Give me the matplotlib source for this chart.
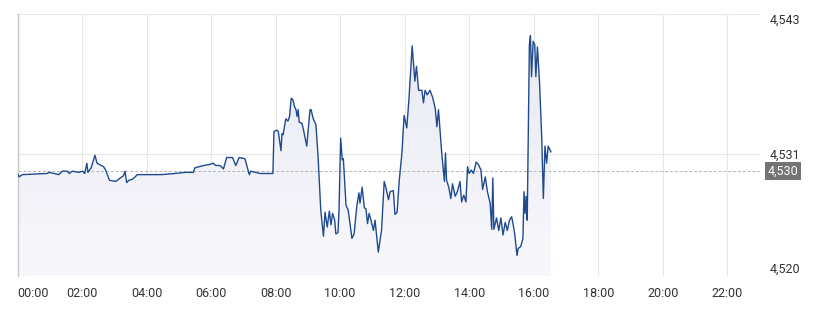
"""
Intraday price chart with previous-close reference line.

Output: out.png
"""

import matplotlib.pyplot as plt
import numpy as np
from matplotlib.ticker import FixedLocator

plt.rcParams["font.family"] = ["Roboto", "DejaVu Sans"]

# minutes since midnight, price
minutes = [
    0, 3, 9, 55, 59, 77, 83, 93, 96, 102, 114, 121, 125, 129, 131, 137, 144, 148,
    152, 156, 160, 164, 171, 183, 191, 197, 200, 203, 207, 214, 223, 245,
    268, 293, 312, 327, 330, 346, 358, 364, 369, 377, 383, 389, 400, 406, 412,
    423, 431, 434, 451, 473, 475,
    477, 482, 485, 490, 492, 494, 499, 503, 506, 509, 512, 515, 518, 520, 522,
    524, 529, 532, 538, 544, 546, 550, 555, 559, 564, 569, 572, 576, 580, 583,
    586, 590, 592, 596, 598, 601, 604, 606, 611, 615, 622, 626, 631, 635, 637,
    641, 645, 648, 651, 654, 658, 662, 665, 671, 677, 682, 685, 690, 693, 699,
    702, 706, 710, 715, 719, 724, 728, 734, 739, 742, 746, 752, 755, 758, 762,
    767, 772, 777, 780, 783, 789, 794, 796, 798, 802, 806, 809, 814, 818, 823,
    826, 830, 834, 837, 840, 844, 848, 853, 857, 862, 865, 870, 874, 879, 882,
    884, 886, 891, 895, 899, 903, 907, 911, 915, 919, 922, 925, 929, 931, 936,
    940, 942, 944, 946, 948, 952, 954, 956, 959, 962, 964, 967, 971, 975, 978,
    981, 984, 987, 992,
]
prices = [
    4.5293, 4.5290, 4.5292, 4.5293, 4.5294, 4.5292, 4.5295, 4.5295, 4.5293,
    4.5295, 4.5294, 4.5295, 4.5293, 4.5302, 4.5294, 4.5298, 4.5309, 4.5302,
    4.5301, 4.5300, 4.5299, 4.5296, 4.5287, 4.5286, 4.5289, 4.5291, 4.5295,
    4.5285, 4.5287, 4.5288, 4.5292, 4.5292,
    4.5292, 4.5293, 4.5294, 4.5294, 4.5298, 4.5300, 4.5301, 4.5302, 4.5300,
    4.5300, 4.5297, 4.5307, 4.5307, 4.5300, 4.5307, 4.5306, 4.5292, 4.5295,
    4.5293, 4.5293, 4.5293,
    4.5330, 4.5331, 4.5330, 4.5313, 4.5328, 4.5327, 4.5341, 4.5339, 4.5343,
    4.5359, 4.5358, 4.5352, 4.5349, 4.5343, 4.5349, 4.5338, 4.5337, 4.5331,
    4.5317, 4.5349, 4.5349, 4.5341, 4.5336, 4.5308, 4.5261, 4.5238, 4.5259,
    4.5246, 4.5260, 4.5248, 4.5258, 4.5252, 4.5240, 4.5241, 4.5261, 4.5324,
    4.5305, 4.5306, 4.5265, 4.5261, 4.5236, 4.5240, 4.5264, 4.5276, 4.5267,
    4.5281, 4.5263, 4.5262, 4.5249, 4.5258, 4.5251, 4.5243, 4.5252, 4.5224,
    4.5243, 4.5286, 4.5281, 4.5270, 4.5277, 4.5278, 4.5257, 4.5259, 4.5287,
    4.5311, 4.5344, 4.5333, 4.5358, 4.5405, 4.5374, 4.5387, 4.5366, 4.5366,
    4.5355, 4.5366, 4.5362, 4.5366, 4.5360, 4.5350, 4.5334, 4.5349, 4.5311,
    4.5286, 4.5311, 4.5287, 4.5281, 4.5271, 4.5284, 4.5273, 4.5277, 4.5286,
    4.5268, 4.5274, 4.5268, 4.5299, 4.5293, 4.5296, 4.5293, 4.5303, 4.5301,
    4.5296, 4.5279, 4.5290, 4.5277, 4.5267, 4.5244, 4.5289, 4.5244, 4.5254,
    4.5243, 4.5254, 4.5239, 4.5250, 4.5243, 4.5252, 4.5255, 4.5248, 4.5239,
    4.5221, 4.5227, 4.5229, 4.5236, 4.5277, 4.5258, 4.5273, 4.5252, 4.5406,
    4.5414, 4.5378, 4.5409, 4.5406, 4.5378, 4.5404, 4.5372, 4.5324, 4.5271,
    4.5317, 4.5302, 4.5317, 4.5312,
]

prev_close = 4.5295
prev_close_label = "4,530"
y_low, y_high = 4.5203, 4.5433
y_ticks = [y_low, 4.531, y_high]
y_tick_labels = ["4,520", "4,531", "4,543"]
x_ticks = list(range(0, 1321, 120))
x_tick_labels = ["%02d:00" % (m // 60) for m in x_ticks]

LINE = "#1f4b8e"
GRID = "#e6e6e6"
TEXT = "#333333"

W, H = 813, 318
fig = plt.figure(figsize=(W / 100, H / 100), dpi=100)
left, right, top, bottom = 17.5, 759.5, 14, 276
ax = fig.add_axes([left / W, 1 - bottom / H, (right - left) / W, (bottom - top) / H])

x = np.array(minutes, dtype=float)
y = np.array(prices)

ax.set_xlim(0, 1380)
ax.set_ylim(y_low, y_high)

# gradient fill under the line
poly = ax.fill_between(x, y, y_low, color="none", lw=0)
grad = np.linspace(0, 1, 256).reshape(-1, 1)
from matplotlib.colors import LinearSegmentedColormap
cmap = LinearSegmentedColormap.from_list("f", ["#f8f8fc", "#e9e9f3"])
img = ax.imshow(grad, cmap=cmap, aspect="auto", origin="lower",
                extent=[0, 1380, y_low, max(prices)], zorder=1)
img.set_clip_path(poly.get_paths()[0], transform=ax.transData)

ax.plot(x, y, color=LINE, lw=1.0, zorder=3, solid_joinstyle="round")

# previous close
ax.axhline(prev_close, color="#b5b5b5", lw=0.7, ls=(0, (3, 2)), zorder=2)
ax.text(1.0 + 8 / (right - left), prev_close, prev_close_label,
        transform=ax.get_yaxis_transform(), ha="left", va="center",
        fontsize=9, color="white",
        bbox=dict(boxstyle="square,pad=0.2", fc="#737373", ec="none"))

# grid
ax.set_xticks(x_ticks)
ax.set_xticklabels(x_tick_labels)
ax.yaxis.set_major_locator(FixedLocator(y_ticks))
ax.set_yticklabels(y_tick_labels)
ax.yaxis.tick_right()
ax.grid(True, color=GRID, lw=0.8, zorder=0)
ax.set_axisbelow(True)
ax.tick_params(axis="both", length=0, labelsize=9, colors=TEXT)
ax.tick_params(axis="x", pad=8)
ax.tick_params(axis="y", pad=7)

labels = ax.get_yticklabels()
labels[0].set_va("bottom")
labels[-1].set_va("top")
ax.get_xticklabels()[0].set_ha("left")

for side in ["top", "right", "bottom"]:
    ax.spines[side].set_visible(False)
ax.spines["left"].set_color("#c8c8c8")
ax.spines["left"].set_linewidth(1.0)

fig.savefig("out.png", dpi=100)
